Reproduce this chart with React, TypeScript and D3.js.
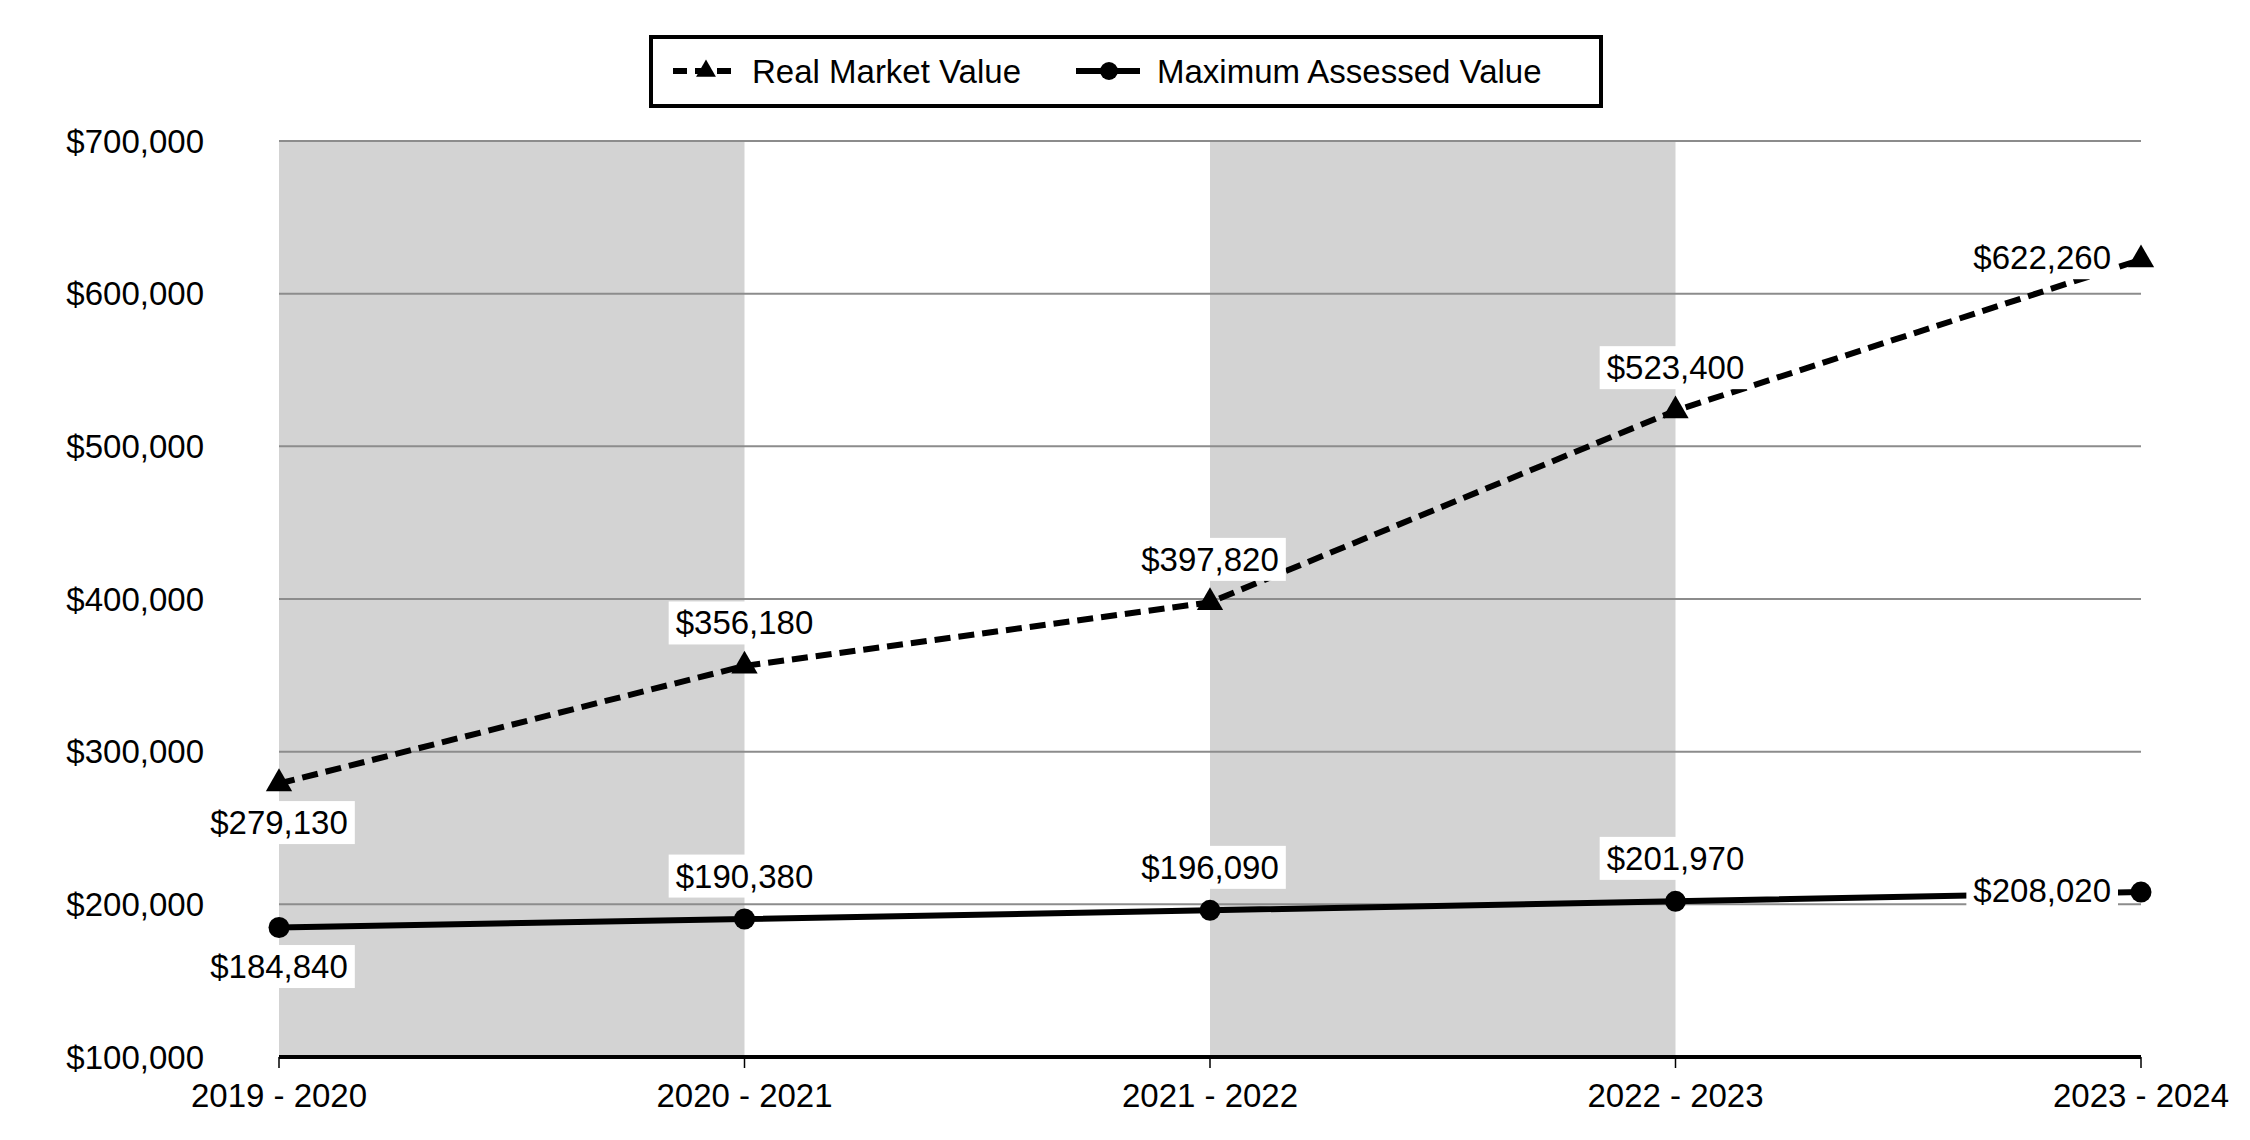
import React, { useEffect, useRef } from "react";
import * as d3 from "d3";

const categories = ["2019 - 2020", "2020 - 2021", "2021 - 2022", "2022 - 2023", "2023 - 2024"];
const realMarketValue = [279130, 356180, 397820, 523400, 622260];
const maxAssessedValue = [184840, 190380, 196090, 201970, 208020];
const yTicks = [100000, 200000, 300000, 400000, 500000, 600000, 700000];
const seriesNames = ["Real Market Value", "Maximum Assessed Value"];
// label placement per point: "above" | "below" | "left"
const rmvPlacement = ["below", "above", "above", "above", "left"];
const mavPlacement = ["below", "above", "above", "above", "left"];

const W = 2250;
const H = 1140;
const FONT = "'Liberation Sans', Arial, sans-serif";
const FS = 33;

export default function App() {
  const ref = useRef<SVGSVGElement | null>(null);

  useEffect(() => {
    const svg = d3.select(ref.current);
    svg.selectAll("*").remove();

    const x = d3.scalePoint<string>().domain(categories).range([279, 2141]);
    const y = d3.scaleLinear().domain([100000, 700000]).range([1057, 141]);
    const fmt = (v: number) => "$" + d3.format(",")(v);

    svg.append("rect").attr("width", W).attr("height", H).attr("fill", "#ffffff");

    // alternating bands
    const bandIdx = [0, 2];
    bandIdx.forEach((i) => {
      const x0 = x(categories[i])!;
      const x1 = x(categories[i + 1])!;
      svg
        .append("rect")
        .attr("x", x0)
        .attr("y", y(700000))
        .attr("width", x1 - x0)
        .attr("height", y(100000) - y(700000))
        .attr("fill", "#d3d3d3");
    });

    // gridlines
    const x0 = x(categories[0])!;
    const xN = x(categories[categories.length - 1])!;
    svg
      .append("g")
      .selectAll("line")
      .data(yTicks.filter((t) => t > 100000))
      .join("line")
      .attr("x1", x0)
      .attr("x2", xN)
      .attr("y1", (d) => y(d))
      .attr("y2", (d) => y(d))
      .attr("stroke", "#8c8c8c")
      .attr("stroke-width", 2);

    // y tick labels
    svg
      .append("g")
      .selectAll("text")
      .data(yTicks)
      .join("text")
      .attr("x", 204)
      .attr("y", (d) => y(d))
      .attr("dy", "0.35em")
      .attr("text-anchor", "end")
      .attr("font-family", FONT)
      .attr("font-size", FS)
      .attr("fill", "#000")
      .text((d) => fmt(d));

    // x axis
    svg
      .append("line")
      .attr("x1", x0)
      .attr("x2", xN)
      .attr("y1", y(100000))
      .attr("y2", y(100000))
      .attr("stroke", "#000")
      .attr("stroke-width", 4);
    svg
      .append("g")
      .selectAll("line")
      .data(categories)
      .join("line")
      .attr("x1", (d) => x(d)!)
      .attr("x2", (d) => x(d)!)
      .attr("y1", y(100000))
      .attr("y2", y(100000) + 11)
      .attr("stroke", "#000")
      .attr("stroke-width", 1.5);
    svg
      .append("g")
      .selectAll("text")
      .data(categories)
      .join("text")
      .attr("x", (d) => x(d)!)
      .attr("y", 1095)
      .attr("dy", "0.35em")
      .attr("text-anchor", "middle")
      .attr("font-family", FONT)
      .attr("font-size", FS)
      .attr("fill", "#000")
      .text((d) => d);

    const line = d3
      .line<number>()
      .x((_, i) => x(categories[i])!)
      .y((d) => y(d));

    // series lines
    svg
      .append("path")
      .attr("d", line(realMarketValue)!)
      .attr("fill", "none")
      .attr("stroke", "#000")
      .attr("stroke-width", 6)
      .attr("stroke-dasharray", "16,8");
    svg
      .append("path")
      .attr("d", line(maxAssessedValue)!)
      .attr("fill", "none")
      .attr("stroke", "#000")
      .attr("stroke-width", 6);

    // data labels with white boxes
    const addLabels = (vals: number[], placement: string[]) => {
      vals.forEach((v, i) => {
        const px = x(categories[i])!;
        const py = y(v);
        const g = svg.append("g");
        const t = g
          .append("text")
          .attr("font-family", FONT)
          .attr("font-size", FS)
          .attr("fill", "#000")
          .attr("dy", "0.35em")
          .text(fmt(v));
        const p = placement[i];
        if (p === "above") {
          t.attr("x", px).attr("y", py - 43).attr("text-anchor", "middle");
        } else if (p === "below") {
          t.attr("x", px).attr("y", py + 39).attr("text-anchor", "middle");
        } else {
          t.attr("x", px - 30).attr("y", py - 2).attr("text-anchor", "end");
        }
        const bb = (t.node() as SVGTextElement).getBBox();
        g.insert("rect", "text")
          .attr("x", bb.x - 7)
          .attr("y", bb.y - 3)
          .attr("width", bb.width + 14)
          .attr("height", bb.height + 6)
          .attr("fill", "#fff");
      });
    };
    addLabels(realMarketValue, rmvPlacement);
    addLabels(maxAssessedValue, mavPlacement);

    // markers
    const tri = d3.symbol().type(d3.symbolTriangle).size(300);
    svg
      .append("g")
      .selectAll("path")
      .data(realMarketValue)
      .join("path")
      .attr("d", tri()!)
      .attr("transform", (d, i) => `translate(${x(categories[i])},${y(d)})`)
      .attr("fill", "#000");
    svg
      .append("g")
      .selectAll("circle")
      .data(maxAssessedValue)
      .join("circle")
      .attr("cx", (_, i) => x(categories[i])!)
      .attr("cy", (d) => y(d))
      .attr("r", 10.5)
      .attr("fill", "#000");

    // legend
    svg
      .append("rect")
      .attr("x", 651)
      .attr("y", 37)
      .attr("width", 950)
      .attr("height", 69)
      .attr("fill", "#fff")
      .attr("stroke", "#000")
      .attr("stroke-width", 4);
    const ly = 71;
    svg
      .append("line")
      .attr("x1", 673)
      .attr("x2", 737)
      .attr("y1", ly)
      .attr("y2", ly)
      .attr("stroke", "#000")
      .attr("stroke-width", 6)
      .attr("stroke-dasharray", "14,8");
    svg
      .append("path")
      .attr("d", d3.symbol().type(d3.symbolTriangle).size(170)()!)
      .attr("transform", `translate(706,${ly})`)
      .attr("fill", "#000");
    svg
      .append("text")
      .attr("x", 752)
      .attr("y", ly)
      .attr("dy", "0.35em")
      .attr("font-family", FONT)
      .attr("font-size", FS)
      .text(seriesNames[0]);
    svg
      .append("line")
      .attr("x1", 1076)
      .attr("x2", 1140)
      .attr("y1", ly)
      .attr("y2", ly)
      .attr("stroke", "#000")
      .attr("stroke-width", 6);
    svg.append("circle").attr("cx", 1109).attr("cy", ly).attr("r", 9).attr("fill", "#000");
    svg
      .append("text")
      .attr("x", 1157)
      .attr("y", ly)
      .attr("dy", "0.35em")
      .attr("font-family", FONT)
      .attr("font-size", FS)
      .text(seriesNames[1]);
  }, []);

  return (
    <svg
      ref={ref}
      width={W}
      height={H}
      style={{ position: "absolute", left: 0, top: 0, display: "block" }}
    />
  );
}
